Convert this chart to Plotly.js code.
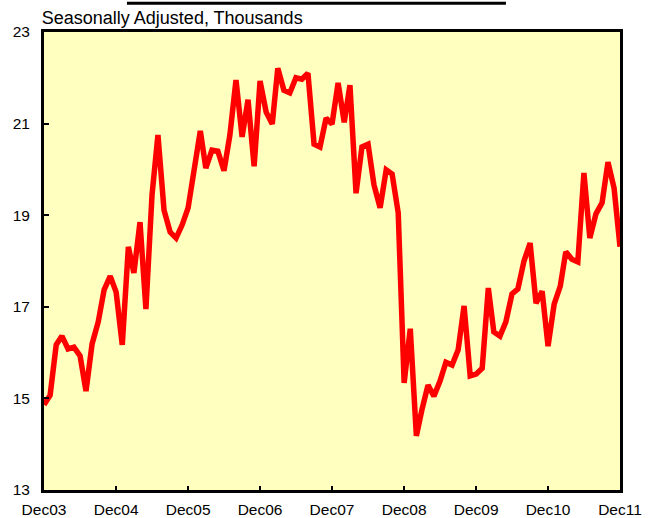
<!DOCTYPE html>
<html>
<head>
<meta charset="utf-8">
<script src="https://cdn.plot.ly/plotly-3.0.1.min.js"></script>
<style>
  body { margin: 0; background: #fff; }
  #chart { width: 653px; height: 518px; }
</style>
</head>
<body>
<div id="chart"></div>
<script>
// monthly values, Dec 2003 .. Dec 2011 (thousands, seasonally adjusted)
var vals2004 = [14.86, 15.07, 16.17, 16.36, 16.08, 16.12, 15.93, 15.16, 16.19, 16.67, 17.37, 17.67, 17.32];
var vals2005 = [16.17, 18.31, 17.74, 18.85, 16.95, 19.44, 20.75, 19.11, 18.63, 18.50, 18.79, 19.16];
var vals2006 = [19.94, 20.84, 20.03, 20.42, 20.40, 19.97, 20.75, 21.95, 20.71, 21.52, 20.07, 21.93];
var vals2007 = [21.25, 20.99, 22.21, 21.73, 21.67, 22.00, 21.97, 22.10, 20.55, 20.49, 21.12, 20.99];
var vals2008 = [21.89, 21.03, 21.84, 19.48, 20.49, 20.55, 19.66, 19.16, 19.99, 19.90, 19.05, 15.34];
var vals2009 = [16.52, 14.18, 14.75, 15.29, 15.05, 15.38, 15.79, 15.73, 16.06, 17.02, 15.49, 15.53];
var vals2010 = [15.66, 17.41, 16.45, 16.36, 16.67, 17.28, 17.39, 18.00, 18.39, 17.08, 17.34, 16.14];
var vals2011 = [17.06, 17.45, 18.20, 18.04, 17.98, 19.92, 18.50, 19.03, 19.27, 20.16, 19.59, 18.31];

var values = [].concat(vals2004, vals2005, vals2006, vals2007, vals2008, vals2009, vals2010, vals2011);

var tickDates = ['2003-12-01', '2004-12-01', '2005-12-01', '2006-12-01', '2007-12-01',
                 '2008-12-01', '2009-12-01', '2010-12-01', '2011-12-01'];
var tickLabels = ['Dec03', 'Dec04', 'Dec05', 'Dec06', 'Dec07', 'Dec08', 'Dec09', 'Dec10', 'Dec11'];
var yTicks = [13, 15, 17, 19, 21, 23];

// one date per month starting Dec 2003
var months = [];
for (var i = 0; i < values.length; i++) {
  var y = 2003 + Math.floor((11 + i) / 12);
  var m = (11 + i) % 12 + 1;
  months.push(y + '-' + (m < 10 ? '0' + m : m) + '-01');
}

var trace = {
  x: months,
  y: values,
  mode: 'lines',
  line: { color: '#ff0000', width: 5.5 },
  hoverinfo: 'skip'
};

var tickFont = { family: 'Liberation Sans, Arial, sans-serif', size: 15.5, color: '#000' };
var titleFont = { family: 'Liberation Sans, Arial, sans-serif', size: 18, color: '#000' };

var layout = {
  width: 653,
  height: 518,
  margin: { l: 44, r: 33, t: 32, b: 28 },
  paper_bgcolor: '#ffffff',
  plot_bgcolor: '#ffffc0',
  showlegend: false,
  font: tickFont,
  title: {
    text: 'Seasonally Adjusted, Thousands',
    font: titleFont,
    xref: 'container', x: 0.064, xanchor: 'left',
    yref: 'container', y: 0.965, yanchor: 'middle'
  },
  xaxis: {
    type: 'date',
    range: ['2003-12-01', '2011-12-01'],
    tickvals: tickDates,
    ticktext: tickLabels,
    tickfont: tickFont,
    ticks: 'inside',
    ticklen: 4,
    tickwidth: 2,
    tickcolor: '#000',
    ticklabelstandoff: 3,
    showgrid: false,
    zeroline: false,
    showline: true,
    linecolor: '#000',
    linewidth: 3,
    mirror: true
  },
  yaxis: {
    range: [13, 23],
    tickvals: yTicks,
    tickfont: tickFont,
    ticks: 'inside',
    ticklen: 5,
    tickwidth: 2,
    tickcolor: '#000',
    ticklabelstandoff: 8,
    showgrid: false,
    zeroline: false,
    showline: true,
    linecolor: '#000',
    linewidth: 3,
    mirror: true
  },
  shapes: [{
    type: 'line', xref: 'paper', yref: 'paper',
    x0: 0.144, x1: 0.802, y0: 1.063, y1: 1.063,
    line: { color: '#000', width: 3 }
  }]
};

Plotly.newPlot('chart', [trace], layout, { displayModeBar: false, staticPlot: true });
</script>
</body>
</html>
